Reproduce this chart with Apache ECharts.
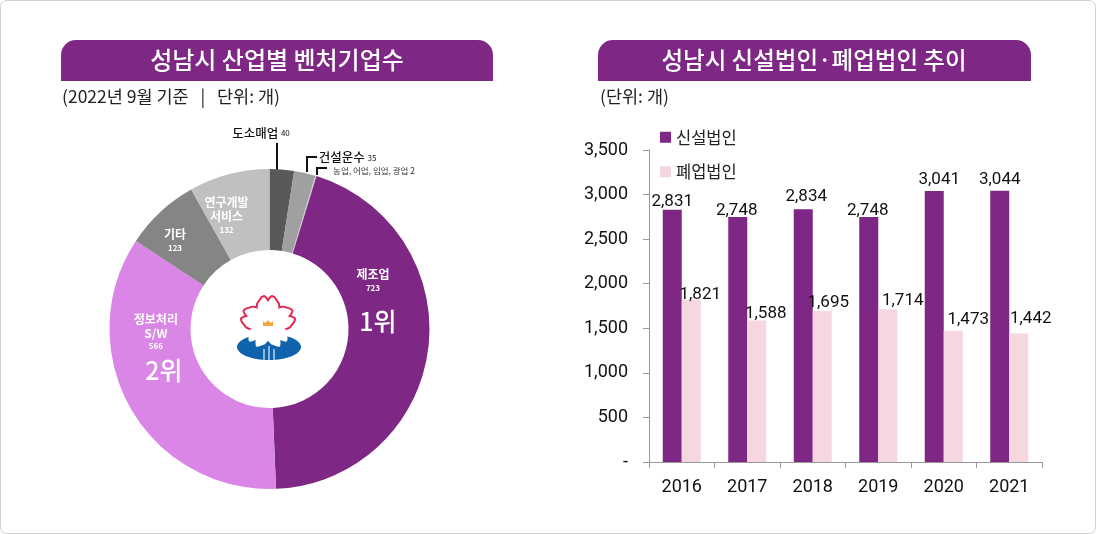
<!DOCTYPE html>
<html>
<head>
<meta charset="utf-8">
<style>html,body{margin:0;padding:0;background:#fff}#container{width:1096px;height:534px}</style>
<script src="https://cdn.jsdelivr.net/npm/echarts@6/dist/echarts.min.js"></script>
</head>
<body>
<div id="container"></div>
<script>
var pieNames = ['도소매업', '건설운수', '농업, 어업, 임업, 광업', '제조업', '정보처리\nS/W', '기타', '연구개발\n서비스'];
var pieValues = [40, 35, 2, 723, 566, 123, 132];
var pieColors = ['#595959', '#a0a0a0', '#c8c8c8', '#7e2785', '#da86e6', '#858585', '#c0c0c0'];

var years = ['2016', '2017', '2018', '2019', '2020', '2021'];
var newCorps = [2831, 2748, 2834, 2748, 3041, 3044];
var closedCorps = [1821, 1588, 1695, 1714, 1473, 1442];
var yTicks = [0, 500, 1000, 1500, 2000, 2500, 3000, 3500];

var krFont = '"Noto Sans CJK KR", "Noto Sans", sans-serif';
var numFont = 'Roboto, "Noto Sans CJK KR", sans-serif';
var purple = '#7e2785';

window.onload = function () {
    var dom = document.getElementById('container');
    var myChart = echarts.init(dom);

    var newOffsets = [[0, 4], [-1, 5], [3, -1], [-1, 5], [5, 0], [0, 1]];
    var closedOffsets = [[9, 7], [9, 5], [6, 3], [15, 3], [15, 1], [12, -3]];
    var pieOffsets = [[-18, -74], [51, -52], [69, -41], [-18, -36], [-7, -39], [-11, 1.5], [-12, 5]];

    function numText(p) {
        return p.value.toLocaleString('en-US');
    }

    function pieLabel(i) {
        var name = pieNames[i], v = pieValues[i];
        if (i === 0 || i === 1) return '{out|' + name + '} {outv|' + v + '}';
        if (i === 2) return '{tiny|' + name + ' ' + v + '}';
        var lines = name.split('\n').map(function (s) { return '{in|' + s + '}'; }).join('\n');
        var rank = i === 3 ? '\n{rank1|1위}' : (i === 4 ? '\n{rank2|2위}' : '');
        return lines + '\n{inv|' + v + '}' + rank;
    }

    // one petal of the city logo, notch at the tip
    var petalPoints = [[0, 2], [3, -2], [6, -6], [9, -11], [10.5, -15], [10, -19], [8, -22], [6, -25], [4, -26], [2, -24], [0, -21],
        [-2, -24], [-4, -26], [-6, -25], [-8, -22], [-10, -19], [-10.5, -15], [-9, -11], [-6, -6], [-3, -2]];

    function petal(rot, outline) {
        return {
            type: 'polygon',
            x: 268, y: 323, rotation: rot,
            shape: { points: petalPoints },
            style: outline ? { fill: '#e0274f', stroke: '#e0274f', lineWidth: 4, lineJoin: 'round' } : { fill: '#fff' }
        };
    }

    var option = {
        animation: false,
        textStyle: { fontFamily: krFont },
        grid: { left: 649, top: 150, width: 393, height: 312 },
        legend: {
            left: 660, top: 129, padding: 0, orient: 'vertical', itemWidth: 11, itemHeight: 11, itemGap: 18,
            icon: 'rect', selectedMode: false,
            data: ['신설법인', '폐업법인'],
            textStyle: { fontFamily: krFont, fontSize: 16.5, color: '#222' }
        },
        xAxis: {
            type: 'category', data: years,
            axisLine: { lineStyle: { color: '#999' } },
            axisTick: { show: true, length: 6, lineStyle: { color: '#999' } },
            axisLabel: { fontFamily: numFont, fontSize: 18, color: '#111', margin: 17 }
        },
        yAxis: {
            type: 'value', min: yTicks[0], max: yTicks[yTicks.length - 1], interval: 500,
            splitLine: { show: false },
            axisLine: { show: true, lineStyle: { color: '#999' } },
            axisTick: { show: true, length: 6, lineStyle: { color: '#999' } },
            axisLabel: {
                fontFamily: numFont, fontSize: 18, color: '#111', margin: 21, padding: [0, 0, 4, 0],
                formatter: function (v) { return v === 0 ? '-' : v.toLocaleString('en-US'); }
            }
        },
        series: [{
            name: '신설법인', type: 'bar', barWidth: 19, barGap: 0,
            itemStyle: { color: purple },
            data: newCorps.map(function (v, i) {
                return { value: v, label: { show: true, position: 'top', offset: newOffsets[i], distance: 3, fontFamily: numFont, fontSize: 17, color: '#111', formatter: numText } };
            })
        }, {
            name: '폐업법인', type: 'bar', barWidth: 19,
            itemStyle: { color: '#f6d7e0' },
            data: closedCorps.map(function (v, i) {
                return { value: v, label: { show: true, position: 'top', offset: closedOffsets[i], distance: 3, fontFamily: numFont, fontSize: 17, color: '#111', formatter: numText } };
            })
        }, {
            name: '벤처기업', type: 'pie', center: [269.5, 329], radius: [79, 160], startAngle: 90, clockwise: true,
            minAngle: 0, avoidLabelOverlap: false,
            labelLine: { show: false },
            emphasis: { disabled: true },
            data: pieValues.map(function (v, i) {
                return {
                    value: v, name: pieNames[i],
                    itemStyle: { color: pieColors[i] },
                    label: {
                        show: true, position: 'inside', offset: pieOffsets[i],
                        formatter: pieLabel(i), align: 'center',
                        rich: {
                            in: { fontFamily: krFont, fontSize: 12, fontWeight: 'bold', color: '#fff', lineHeight: 14, align: 'center' },
                            inv: { fontFamily: krFont, fontSize: 8, fontWeight: 'bold', color: '#fff', lineHeight: 12, align: 'center' },
                            rank1: { fontFamily: krFont, fontSize: 25, fontWeight: 500, color: '#fff', lineHeight: 56, align: 'center', padding: [0, 0, 0, 10] },
                            rank2: { fontFamily: krFont, fontSize: 25, fontWeight: 500, color: '#fff', lineHeight: 36, align: 'center', padding: [0, 0, 0, 16] },
                            out: { fontFamily: krFont, fontSize: 12.5, fontWeight: 500, color: '#111' },
                            outv: { fontFamily: krFont, fontSize: 8, color: '#111' },
                            tiny: { fontFamily: krFont, fontSize: 8.5, color: '#333' }
                        }
                    }
                };
            })
        }],
        graphic: [
            { type: 'rect', z: -1, shape: { x: 0.5, y: 0.5, width: 1095, height: 533, r: 6 }, style: { fill: '#fff', stroke: '#d0d0d0' } },
            { type: 'rect', shape: { x: 61, y: 40, width: 432, height: 41, r: [15, 15, 0, 0] }, style: { fill: purple } },
            { type: 'rect', shape: { x: 598, y: 40, width: 433, height: 41, r: [15, 15, 0, 0] }, style: { fill: purple } },
            { type: 'text', x: 277, y: 60, style: { text: '성남시 산업별 벤처기업수', fill: '#fff', font: '500 24px ' + krFont, textAlign: 'center', textVerticalAlign: 'middle' } },
            { type: 'text', x: 814, y: 60, style: { text: '성남시 신설법인·폐업법인 추이', fill: '#fff', font: '500 23.5px ' + krFont, textAlign: 'center', textVerticalAlign: 'middle' } },
            { type: 'text', x: 62, y: 96, style: { text: '(2022년 9월 기준   |   단위: 개)', fill: '#222', font: '17.5px ' + krFont, textVerticalAlign: 'middle' } },
            { type: 'text', x: 600, y: 96, style: { text: '(단위: 개)', fill: '#222', font: '17.5px ' + krFont, textVerticalAlign: 'middle' } },
            { type: 'polyline', shape: { points: [[277, 143], [277, 172]] }, style: { stroke: '#111', lineWidth: 2, fill: null } },
            { type: 'polyline', shape: { points: [[307, 172], [307, 157], [317, 157]] }, style: { stroke: '#111', lineWidth: 2, fill: null } },
            { type: 'polyline', shape: { points: [[317, 175], [317, 168], [327, 168]] }, style: { stroke: '#111', lineWidth: 2, fill: null } },
            // logo
            { type: 'ellipse', shape: { cx: 269, cy: 347, rx: 32, ry: 13 }, style: { fill: '#0f62ac' } },
            petal(0, true),
            petal(-1.257, true),
            petal(1.257, true),
            petal(0, false),
            petal(-1.257, false),
            petal(1.257, false),
            petal(-2.513, false),
            petal(2.513, false),
            { type: 'rect', shape: { x: 263, y: 349, width: 2, height: 11 }, style: { fill: '#8db8dc' } },
            { type: 'rect', shape: { x: 268, y: 346, width: 2, height: 14 }, style: { fill: '#8db8dc' } },
            { type: 'rect', shape: { x: 273, y: 349, width: 2, height: 11 }, style: { fill: '#8db8dc' } },
            { type: 'polygon', shape: { points: [[263, 326], [263, 321], [265.5, 323], [268, 320], [270.5, 323], [273, 321], [273, 326]] }, style: { fill: '#f2a93b' } }
        ]
    };

    if (option && typeof option === 'object') {
        myChart.setOption(option, true);
    }
};
</script>
</body>
</html>
